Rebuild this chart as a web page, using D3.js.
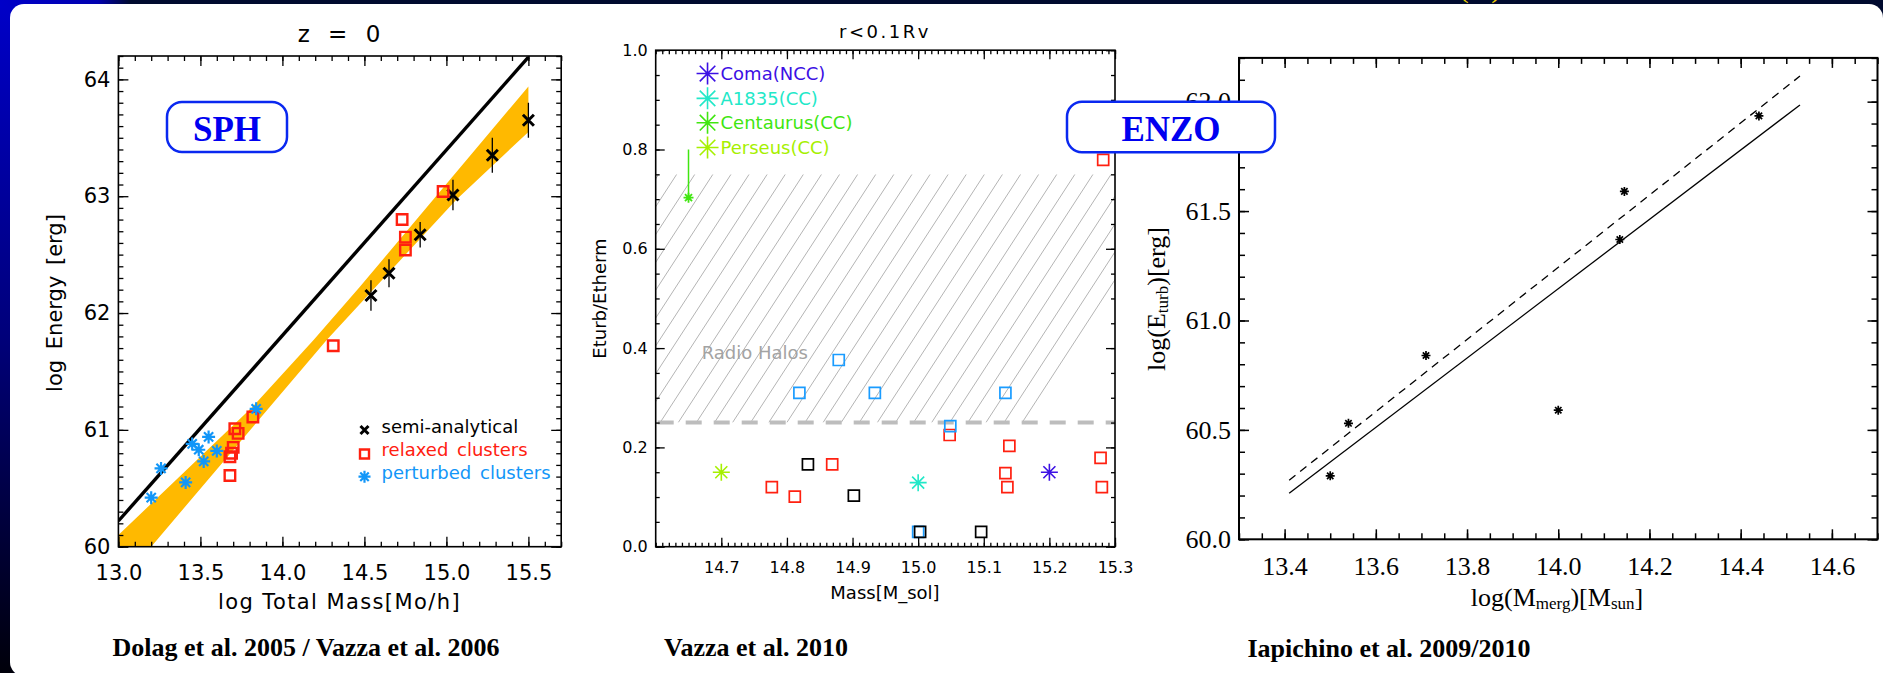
<!DOCTYPE html>
<html><head><meta charset="utf-8">
<script src="https://cdn.jsdelivr.net/npm/d3@7"></script>
<style>
html,body{margin:0;padding:0;background:#000a2e;overflow:hidden;}
svg{display:block;}
</style></head><body>
<svg id="chart" width="1883" height="673"></svg>
<script>
// ================= DATA =================
// Panel 1 : SPH (Dolag et al. 2005 / Vazza et al. 2006)
const p1XTicks = [13.0, 13.5, 14.0, 14.5, 15.0, 15.5];
const p1YTicks = [60, 61, 62, 63, 64];
const semiMass   = [14.54, 14.65, 14.84, 15.04, 15.28, 15.50];
const semiEnergy = [62.15, 62.34, 62.67, 63.01, 63.35, 63.65];
const semiErr    = [0.13, 0.12, 0.11, 0.13, 0.15, 0.15];
const relaxedMass   = [14.98, 14.73, 14.75, 14.75, 14.31, 13.82, 13.71, 13.73, 13.70, 13.69, 13.68, 13.68];
const relaxedEnergy = [63.04, 62.80, 62.65, 62.54, 61.72, 61.11, 61.01, 60.97, 60.85, 60.80, 60.77, 60.61];
const perturbedMass   = [13.84, 13.55, 13.45, 13.49, 13.60, 13.52, 13.26, 13.41, 13.20];
const perturbedEnergy = [61.18, 60.94, 60.88, 60.83, 60.82, 60.73, 60.67, 60.55, 60.42];
const sphLine = [[13.0, 60.22], [15.5, 64.19]];
const bandUpper = [[13.0, 60.10], [13.82, 61.20], [14.19, 61.77], [14.47, 62.22], [15.5, 63.94]];
const bandLower = [[13.2, 60.0], [14.27, 61.77], [15.06, 62.97], [15.5, 63.55]];
const p1Legend = ["semi-analytical", "relaxed clusters", "perturbed clusters"];

// Panel 2 : Vazza et al. 2010
const p2XTicks = [14.7, 14.8, 14.9, 15.0, 15.1, 15.2, 15.3];
const p2YTicks = [0.0, 0.2, 0.4, 0.6, 0.8, 1.0];
const obsNames = ["Coma(NCC)", "A1835(CC)", "Centaurus(CC)", "Perseus(CC)"];
const obsMass  = [15.20, 15.00, 14.65, 14.70];
const obsRatio = [0.150, 0.129, 0.703, 0.150];
const centaurusLimit = 0.80;
const redMass2   = [14.777, 14.812, 14.869, 15.048, 15.139, 15.133, 15.136, 15.278, 15.280, 15.282];
const redRatio2  = [0.120, 0.101, 0.166, 0.225, 0.203, 0.148, 0.120, 0.179, 0.120, 0.779];
const blueMass2  = [14.879, 14.819, 14.934, 15.133, 15.049, 15.000];
const blueRatio2 = [0.376, 0.310, 0.310, 0.310, 0.243, 0.030];
const blackMass2  = [14.832, 14.902, 15.003, 15.096];
const blackRatio2 = [0.166, 0.103, 0.030, 0.030];
const radioHaloRange = [0.25, 0.75];

// Panel 3 : ENZO (Iapichino et al. 2009/2010)
const p3XTicks = [13.4, 13.6, 13.8, 14.0, 14.2, 14.4, 14.6];
const p3YTicks = [60.0, 60.5, 61.0, 61.5, 62.0];
const mergMass   = [13.50, 13.54, 13.71, 14.00, 14.135, 14.145, 14.44];
const turbEnergy = [60.29, 60.53, 60.84, 60.59, 61.37, 61.59, 61.935];
const fitSolid  = [[13.41, 60.21], [14.53, 61.985]];
const fitDashed = [[13.41, 60.27], [14.53, 62.117]];

// ================= STYLE =================
const obsColors = ["#3c10e4", "#22e8c8", "#40e610", "#a6f000"];
const RED = "#ff2010", BLUE = "#1296f8", ORANGE = "#ffb900";
const SANS = "DejaVu Sans", SERIF = "Liberation Serif";

// ================= SETUP =================
const W = 1883, H = 673;
const svg = d3.select("#chart");
const defs = svg.append("defs");

const lg = defs.append("linearGradient").attr("id", "leftGrad").attr("x1", 0).attr("y1", 0).attr("x2", 0).attr("y2", 1);
lg.append("stop").attr("offset", "0%").attr("stop-color", "#0000c8");
lg.append("stop").attr("offset", "50%").attr("stop-color", "#00007a");
lg.append("stop").attr("offset", "100%").attr("stop-color", "#00000a");
const tg = defs.append("linearGradient").attr("id", "topGrad").attr("x1", 0).attr("y1", 0).attr("x2", 1).attr("y2", 0);
tg.append("stop").attr("offset", "0%").attr("stop-color", "#0000c8");
tg.append("stop").attr("offset", "75%").attr("stop-color", "#0000b0");
tg.append("stop").attr("offset", "100%").attr("stop-color", "#000a2e");

svg.append("rect").attr("width", W).attr("height", H).attr("fill", "#000a2e");
svg.append("rect").attr("width", 14).attr("height", H).attr("fill", "url(#leftGrad)");
svg.append("rect").attr("width", 130).attr("height", 8).attr("fill", "url(#topGrad)");
// tiny yellow glyphs of slide title above the card
svg.append("text").attr("x", 1480).attr("y", -3).attr("text-anchor", "middle")
  .attr("font-family", SERIF).attr("font-size", 30).attr("fill", "#f0d000")
  .style("white-space", "pre").text("(   )");
// white card (extends past the bottom edge)
svg.append("rect").attr("x", 10).attr("y", 4).attr("width", W - 10).attr("height", 672).attr("rx", 14).attr("fill", "#fff");
svg.append("rect").attr("x", W - 40).attr("y", 600).attr("width", 40).attr("height", 73).attr("fill", "#fff");

// custom symbol types
const symAster = { draw(ctx, size) { const r = Math.sqrt(size) / 2;
  for (let i = 0; i < 4; i++) { const a = i * Math.PI / 4;
    ctx.moveTo(-r * Math.cos(a), -r * Math.sin(a)); ctx.lineTo(r * Math.cos(a), r * Math.sin(a)); } } };
const symTimes = { draw(ctx, size) { const r = Math.sqrt(size) / 2;
  ctx.moveTo(-r, -r); ctx.lineTo(r, r); ctx.moveTo(-r, r); ctx.lineTo(r, -r); } };
const sym = (type, d) => d3.symbol().type(type).size(d * d)();

function minorRange(a, b, step) {
  const n = Math.round((b - a) / step);
  return d3.range(n + 1).map(i => +(a + i * step).toFixed(4));
}

function drawFrame(g, x, y, o) {
  const [xl, xr] = x.range(), [yb, yt] = y.range();
  const style = sel => {
    sel.attr("font-family", null).attr("font-size", null);
    sel.select(".domain").remove();
    sel.selectAll(".tick line").attr("stroke", "#000").attr("stroke-width", o.tickWidth);
    sel.selectAll("text").attr("font-family", o.font).attr("font-size", o.fontSize).attr("fill", "#000");
  };
  const bt = g.append("g").attr("transform", `translate(0,${yb})`);
  bt.append("g").call(d3.axisBottom(x).tickValues(o.xMinor).tickSize(-o.minLen).tickFormat("")).call(style);
  bt.append("g").call(d3.axisBottom(x).tickValues(o.xMajor).tickSize(-o.majLen).tickPadding(o.xPad).tickFormat(o.xFmt)).call(style);
  const tp = g.append("g").attr("transform", `translate(0,${yt})`);
  tp.append("g").call(d3.axisTop(x).tickValues(o.xMinor).tickSize(-o.minLen).tickFormat("")).call(style);
  tp.append("g").call(d3.axisTop(x).tickValues(o.xMajor).tickSize(-o.majLen).tickFormat("")).call(style);
  const lf = g.append("g").attr("transform", `translate(${xl},0)`);
  lf.append("g").call(d3.axisLeft(y).tickValues(o.yMinor).tickSize(-o.minLen).tickFormat("")).call(style);
  lf.append("g").call(d3.axisLeft(y).tickValues(o.yMajor).tickSize(-o.majLen).tickPadding(o.yPad).tickFormat(o.yFmt)).call(style);
  const rt = g.append("g").attr("transform", `translate(${xr},0)`);
  rt.append("g").call(d3.axisRight(y).tickValues(o.yMinor).tickSize(-o.minLen).tickFormat("")).call(style);
  rt.append("g").call(d3.axisRight(y).tickValues(o.yMajor).tickSize(-o.majLen).tickFormat("")).call(style);
  g.append("rect").attr("x", xl).attr("y", yt).attr("width", xr - xl).attr("height", yb - yt)
    .attr("fill", "none").attr("stroke", "#000").attr("stroke-width", o.frameWidth);
}

// ================= PANEL 1 =================
{
  const g = svg.append("g");
  const x = d3.scaleLinear().domain([13.0, 15.7]).range([118.4, 561.2]);
  const y = d3.scaleLinear().domain([60, 64.2]).range([546.7, 56]);
  const clipId = "clip1";
  defs.append("clipPath").attr("id", clipId).append("rect")
    .attr("x", x.range()[0]).attr("y", y.range()[1]).attr("width", x.range()[1] - x.range()[0]).attr("height", y.range()[0] - y.range()[1]);
  const pg = g.append("g").attr("clip-path", `url(#${clipId})`);
  // orange band
  const bandPts = [[13.0, 60.0], ...bandUpper, ...bandLower.slice().reverse()];
  pg.append("path").attr("d", d3.line().x(d => x(d[0])).y(d => y(d[1]))(bandPts) + "Z").attr("fill", ORANGE);
  // black line
  pg.append("path").attr("d", d3.line().x(d => x(d[0])).y(d => y(d[1]))(sphLine))
    .attr("stroke", "#000").attr("stroke-width", 3.4).attr("fill", "none");
  // semi-analytical error bars + crosses
  semiMass.forEach((m, i) => {
    pg.append("line").attr("x1", x(m)).attr("x2", x(m)).attr("y1", y(semiEnergy[i] - semiErr[i])).attr("y2", y(semiEnergy[i] + semiErr[i]))
      .attr("stroke", "#000").attr("stroke-width", 1.3);
    pg.append("path").attr("transform", `translate(${x(m)},${y(semiEnergy[i])})`).attr("d", sym(symTimes, 11))
      .attr("stroke", "#000").attr("stroke-width", 3).attr("fill", "none");
  });
  relaxedMass.forEach((m, i) => {
    pg.append("path").attr("transform", `translate(${x(m)},${y(relaxedEnergy[i])})`).attr("d", sym(d3.symbolSquare, 10.5))
      .attr("stroke", RED).attr("stroke-width", 2.4).attr("fill", "none");
  });
  perturbedMass.forEach((m, i) => {
    pg.append("path").attr("transform", `translate(${x(m)},${y(perturbedEnergy[i])})`).attr("d", sym(symAster, 13))
      .attr("stroke", BLUE).attr("stroke-width", 2.2).attr("fill", "none");
  });
  drawFrame(g, x, y, {
    xMajor: p1XTicks, xMinor: minorRange(13.0, 15.7, 0.1), yMajor: p1YTicks, yMinor: minorRange(60, 64.2, 0.1),
    majLen: 10, minLen: 5, xPad: 18, yPad: 8, xFmt: d3.format(".1f"), yFmt: d3.format("d"),
    font: SANS, fontSize: 21, tickWidth: 1.3, frameWidth: 1.6
  });
  // title & labels
  g.append("text").attr("x", 339).attr("y", 34).attr("text-anchor", "middle").attr("dominant-baseline", "central")
    .attr("font-family", SANS).attr("font-size", 23).attr("word-spacing", 11).text("z = 0");
  g.append("text").attr("x", 339.5).attr("y", 602).attr("text-anchor", "middle").attr("dominant-baseline", "central")
    .attr("font-family", SANS).attr("font-size", 21).attr("letter-spacing", 1.4).text("log Total Mass[Mo/h]");
  g.append("text").attr("transform", "translate(55,303) rotate(-90)").attr("text-anchor", "middle").attr("dominant-baseline", "central")
    .attr("font-family", SANS).attr("font-size", 21).attr("word-spacing", 4).text("log Energy [erg]");
  // legend
  const legY = [430, 454, 476.7], legTY = [426, 449, 472.7];
  const legCol = ["#000", RED, BLUE];
  g.append("path").attr("transform", `translate(364.5,${legY[0]})`).attr("d", sym(symTimes, 8)).attr("stroke", "#000").attr("stroke-width", 3).attr("fill", "none");
  g.append("path").attr("transform", `translate(364.5,${legY[1]})`).attr("d", sym(d3.symbolSquare, 9)).attr("stroke", RED).attr("stroke-width", 2.4).attr("fill", "none");
  g.append("path").attr("transform", `translate(364.5,${legY[2]})`).attr("d", sym(symAster, 12)).attr("stroke", BLUE).attr("stroke-width", 2.2).attr("fill", "none");
  p1Legend.forEach((t, i) => {
    g.append("text").attr("x", 381.6).attr("y", legTY[i]).attr("dominant-baseline", "central")
      .attr("font-family", SANS).attr("font-size", 18).attr("fill", legCol[i]).attr("word-spacing", 3).text(t);
  });
  g.append("text").attr("x", 306).attr("y", 647).attr("text-anchor", "middle").attr("dominant-baseline", "central")
    .attr("font-family", SERIF).attr("font-weight", "bold").attr("font-size", 26).text("Dolag et al. 2005 / Vazza et al. 2006");
}

// ================= PANEL 2 =================
{
  const g = svg.append("g");
  const x = d3.scaleLinear().domain([14.6, 15.3]).range([655.7, 1115]);
  const y = d3.scaleLinear().domain([0, 1]).range([546.7, 50.2]);
  defs.append("clipPath").attr("id", "clip2").append("rect")
    .attr("x", x.range()[0]).attr("y", y(radioHaloRange[1])).attr("width", x.range()[1] - x.range()[0])
    .attr("height", y(radioHaloRange[0]) - y(radioHaloRange[1]));
  // hatch
  const hg = g.append("g").attr("clip-path", "url(#clip2)");
  const yTop = y(radioHaloRange[1]), yBot = y(radioHaloRange[0]);
  const slope = 0.65, hh = yBot - yTop;
  d3.range(-12, 30).forEach(k => {
    const xt = 658.6 + k * 18.1;
    hg.append("line").attr("x1", xt).attr("y1", yTop).attr("x2", xt - slope * hh).attr("y2", yBot)
      .attr("stroke", "#b4b4b4").attr("stroke-width", 1);
  });
  g.append("line").attr("x1", x.range()[0]).attr("x2", x.range()[1]).attr("y1", yBot).attr("y2", yBot)
    .attr("stroke", "#bdbdbd").attr("stroke-width", 4).attr("stroke-dasharray", "16,12").attr("stroke-dashoffset", -2);
  g.append("text").attr("x", 701.7).attr("y", 352.7).attr("dominant-baseline", "central")
    .attr("font-family", SANS).attr("font-size", 18).attr("fill", "#a3a3a3").text("Radio Halos");
  // squares
  const sq = (ms, rs, col) => ms.forEach((m, i) => {
    g.append("path").attr("transform", `translate(${x(m)},${y(rs[i])})`).attr("d", sym(d3.symbolSquare, 11))
      .attr("stroke", col).attr("stroke-width", 1.7).attr("fill", "none");
  });
  sq(redMass2, redRatio2, RED);
  sq(blueMass2, blueRatio2, "#1a9cff");
  sq(blackMass2, blackRatio2, "#000");
  // observed clusters
  obsNames.forEach((n, i) => {
    const small = n.startsWith("Centaurus");
    if (small) {
      g.append("line").attr("x1", x(obsMass[i])).attr("x2", x(obsMass[i])).attr("y1", y(obsRatio[i])).attr("y2", y(centaurusLimit))
        .attr("stroke", obsColors[i]).attr("stroke-width", 1.5);
    }
    g.append("path").attr("transform", `translate(${x(obsMass[i])},${y(obsRatio[i])})`).attr("d", sym(symAster, small ? 10 : 17))
      .attr("stroke", obsColors[i]).attr("stroke-width", small ? 1.8 : 1.6).attr("fill", "none");
  });
  // legend
  const legYv = [0.953, 0.903, 0.854, 0.804];
  obsNames.forEach((n, i) => {
    g.append("path").attr("transform", `translate(${x(14.679)},${y(legYv[i])})`).attr("d", sym(symAster, 22))
      .attr("stroke", obsColors[i]).attr("stroke-width", 1.6).attr("fill", "none");
    g.append("text").attr("x", x(14.679) + 13).attr("y", y(legYv[i])).attr("dominant-baseline", "central")
      .attr("font-family", SANS).attr("font-size", 18).attr("fill", obsColors[i]).text(n);
  });
  drawFrame(g, x, y, {
    xMajor: p2XTicks, xMinor: minorRange(14.6, 15.3, 0.01), yMajor: p2YTicks, yMinor: minorRange(0, 1, 0.05),
    majLen: 9, minLen: 4, xPad: 15, yPad: 8, xFmt: d3.format(".1f"), yFmt: d3.format(".1f"),
    font: SANS, fontSize: 16, tickWidth: 1.3, frameWidth: 1.6
  });
  g.append("text").attr("x", 885).attr("y", 31.7).attr("text-anchor", "middle").attr("dominant-baseline", "central")
    .attr("font-family", SANS).attr("font-size", 18).attr("letter-spacing", 2.5).text("r<0.1Rv");
  g.append("text").attr("x", 885).attr("y", 592).attr("text-anchor", "middle").attr("dominant-baseline", "central")
    .attr("font-family", SANS).attr("font-size", 18).text("Mass[M_sol]");
  g.append("text").attr("transform", "translate(599,298.5) rotate(-90)").attr("text-anchor", "middle").attr("dominant-baseline", "central")
    .attr("font-family", SANS).attr("font-size", 18).text("Eturb/Etherm");
  g.append("text").attr("x", 756).attr("y", 647).attr("text-anchor", "middle").attr("dominant-baseline", "central")
    .attr("font-family", SERIF).attr("font-weight", "bold").attr("font-size", 26).text("Vazza et al. 2010");
}

// ================= PANEL 3 =================
{
  const g = svg.append("g");
  const x = d3.scaleLinear().domain([13.3, 14.7]).range([1239, 1877.5]);
  const y = d3.scaleLinear().domain([60, 62.2]).range([539.3, 57.9]);
  const line = d3.line().x(d => x(d[0])).y(d => y(d[1]));
  g.append("path").attr("d", line(fitSolid)).attr("stroke", "#000").attr("stroke-width", 1.3).attr("fill", "none");
  g.append("path").attr("d", line(fitDashed)).attr("stroke", "#000").attr("stroke-width", 1.3).attr("fill", "none").attr("stroke-dasharray", "8,6");
  mergMass.forEach((m, i) => {
    g.append("path").attr("transform", `translate(${x(m)},${y(turbEnergy[i])})`).attr("d", sym(symAster, 9))
      .attr("stroke", "#000").attr("stroke-width", 1.7).attr("fill", "none");
  });
  drawFrame(g, x, y, {
    xMajor: p3XTicks, xMinor: minorRange(13.3, 14.7, 0.05), yMajor: p3YTicks, yMinor: minorRange(60, 62.2, 0.1),
    majLen: 10, minLen: 6, xPad: 17, yPad: 8, xFmt: d3.format(".1f"), yFmt: d3.format(".1f"),
    font: SERIF, fontSize: 26, tickWidth: 1.5, frameWidth: 2
  });
  const xl = g.append("text").attr("x", 1557).attr("y", 597).attr("text-anchor", "middle").attr("dominant-baseline", "central")
    .attr("font-family", SERIF).attr("font-size", 26);
  xl.append("tspan").text("log(M");
  xl.append("tspan").attr("font-size", 17).attr("dy", 6).text("merg");
  xl.append("tspan").attr("dy", -6).text(")[M");
  xl.append("tspan").attr("font-size", 17).attr("dy", 6).text("sun");
  xl.append("tspan").attr("dy", -6).text("]");
  const yl = g.append("text").attr("transform", "translate(1156,299) rotate(-90)").attr("text-anchor", "middle").attr("dominant-baseline", "central")
    .attr("font-family", SERIF).attr("font-size", 26);
  yl.append("tspan").text("log(E");
  yl.append("tspan").attr("font-size", 17).attr("dy", 6).text("turb");
  yl.append("tspan").attr("dy", -6).text(")[erg]");
  g.append("text").attr("x", 1389).attr("y", 648).attr("text-anchor", "middle").attr("dominant-baseline", "central")
    .attr("font-family", SERIF).attr("font-weight", "bold").attr("font-size", 26).text("Iapichino et al. 2009/2010");
}

// ================= LABEL BOXES =================
function labelBox(x0, y0, x1, y1, txt) {
  svg.append("rect").attr("x", x0).attr("y", y0).attr("width", x1 - x0).attr("height", y1 - y0).attr("rx", 15)
    .attr("fill", "#fff").attr("stroke", "#0a28f0").attr("stroke-width", 2.5);
  svg.append("text").attr("x", (x0 + x1) / 2).attr("y", (y0 + y1) / 2 + 2).attr("text-anchor", "middle").attr("dominant-baseline", "central")
    .attr("font-family", SERIF).attr("font-weight", "bold").attr("font-size", 35).attr("fill", "#0000f0").text(txt);
}
labelBox(167, 102, 287, 152, "SPH");
labelBox(1067, 101.7, 1275, 152.3, "ENZO");
</script>
</body></html>
